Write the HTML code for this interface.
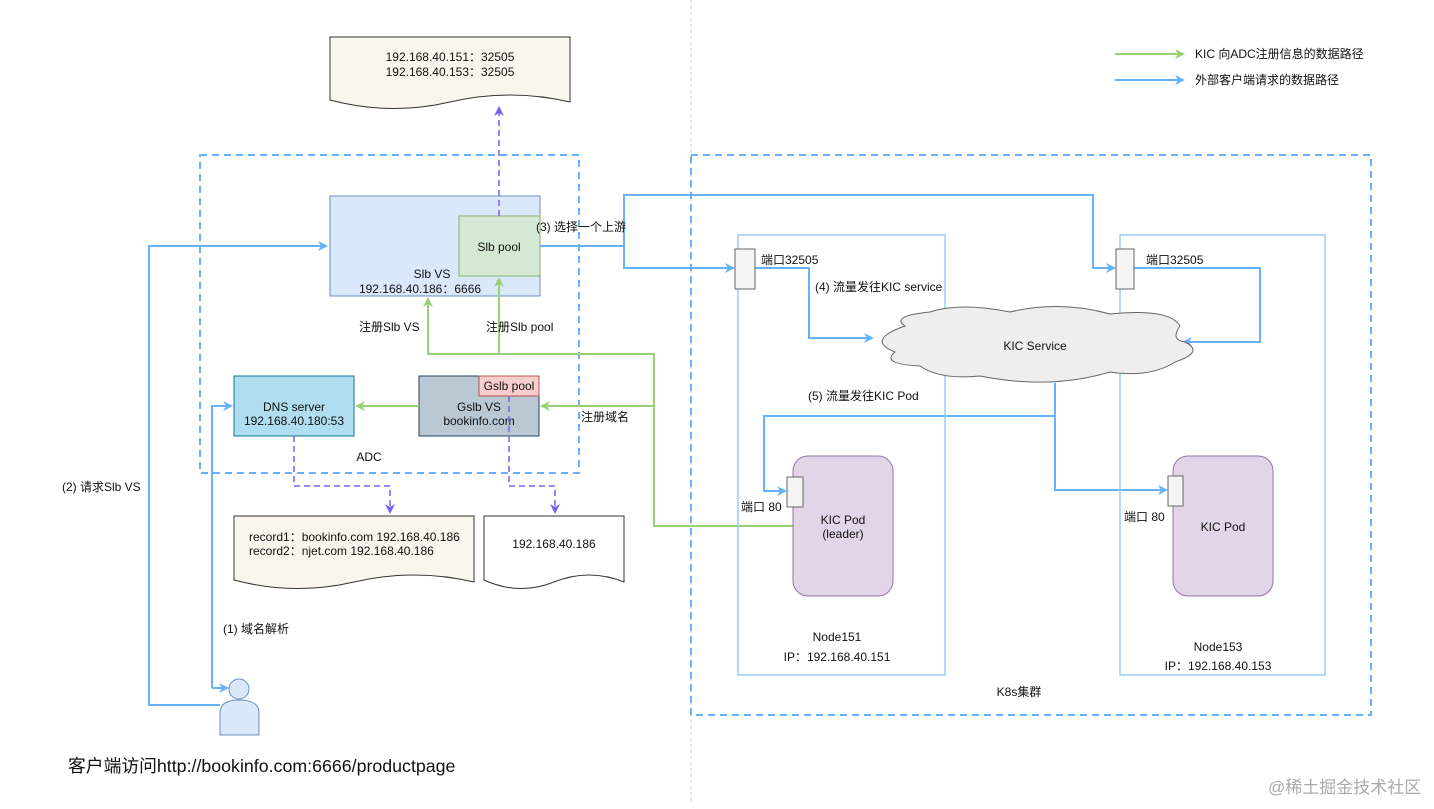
<!DOCTYPE html>
<html><head><meta charset="utf-8"><style>
body{margin:0;background:#fff}
svg text{font-family:"Liberation Sans","Noto Sans CJK SC",sans-serif;font-size:12px;fill:#111}
</style></head><body>
<svg width="1434" height="804" viewBox="0 0 1434 804" xmlns="http://www.w3.org/2000/svg">
<defs>
<marker id="b" markerWidth="10" markerHeight="10" refX="8" refY="5" orient="auto" markerUnits="userSpaceOnUse"><path d="M0,0 L10,5 L0,10 L3,5z" fill="#66b2ff"/></marker>
<marker id="g" markerWidth="10" markerHeight="10" refX="8" refY="5" orient="auto" markerUnits="userSpaceOnUse"><path d="M0,0 L10,5 L0,10 L3,5z" fill="#97d077"/></marker>
<marker id="p" markerWidth="10" markerHeight="10" refX="8" refY="5" orient="auto" markerUnits="userSpaceOnUse"><path d="M0,0 L10,5 L0,10 L3,5z" fill="#7b5ff0"/></marker>
</defs>
<line x1="691" y1="0" x2="691" y2="804" stroke="#ccc" stroke-dasharray="3,3"/>
<rect x="200" y="155" width="379" height="318" fill="none" stroke="#66b2ff" stroke-width="2" stroke-dasharray="7,5"/>
<rect x="691" y="155" width="680" height="560" fill="none" stroke="#66b2ff" stroke-width="2" stroke-dasharray="7,5"/>
<path d="M330,37 H570 V102 Q510,88 450,102 T330,100 Z" fill="#f9f7ed" stroke="#333"/>
<text x="450" y="61" text-anchor="middle">192.168.40.151：32505</text>
<text x="450" y="76" text-anchor="middle">192.168.40.153：32505</text>
<path d="M234,516 H474 V582 Q414,568 354,582 T234,580 Z" fill="#f9f7ed" stroke="#333"/>
<text x="249" y="541">record1：bookinfo.com 192.168.40.186</text>
<text x="249" y="555">record2：njet.com 192.168.40.186</text>
<path d="M484,516 H624 V582 Q589,568 554,582 T484,580 Z" fill="#fff" stroke="#333"/>
<text x="554" y="548" text-anchor="middle">192.168.40.186</text>
<rect x="330" y="196" width="210" height="100" fill="#dae8fc" stroke="#6c8ebf"/>
<text x="432" y="278" text-anchor="middle">Slb VS</text>
<text x="420" y="293" text-anchor="middle">192.168.40.186：6666</text>
<rect x="459" y="216" width="81" height="60" fill="#d5e8d4" stroke="#82b366"/>
<text x="499" y="251" text-anchor="middle">Slb pool</text>
<path d="M499,216 V108" stroke="#7b5ff0" stroke-width="1.5" stroke-dasharray="6,4" fill="none" marker-end="url(#p)"/>
<rect x="234" y="376" width="120" height="60" fill="#b1ddf0" stroke="#10739e"/>
<text x="294" y="411" text-anchor="middle">DNS server</text>
<text x="294" y="425" text-anchor="middle">192.168.40.180:53</text>
<rect x="419" y="376" width="120" height="60" fill="#bac8d3" stroke="#23445d"/>
<rect x="479" y="376" width="60" height="20" fill="#f8cecc" stroke="#b85450"/>
<text x="509" y="390" text-anchor="middle">Gslb pool</text>
<text x="479" y="411" text-anchor="middle">Gslb VS</text>
<text x="479" y="425" text-anchor="middle">bookinfo.com</text>
<text x="369" y="461" text-anchor="middle">ADC</text>
<g stroke="#97d077" stroke-width="2" fill="none">
<path d="M419,406 H357" marker-end="url(#g)"/>
<path d="M793,526 H654 V354 H428 V299" marker-end="url(#g)"/>
<path d="M499,354 V279" marker-end="url(#g)"/>
<path d="M654,406 H542" marker-end="url(#g)"/>
</g>
<text x="359" y="331">注册Slb VS</text>
<text x="486" y="331">注册Slb pool</text>
<text x="581" y="421">注册域名</text>
<g stroke="#7b5ff0" stroke-width="1.5" stroke-dasharray="6,4" fill="none">
<path d="M294,436 V486 H390 V512" marker-end="url(#p)"/>
<path d="M509,396 V486 H555 V512" marker-end="url(#p)"/>
</g>
<circle cx="239" cy="689" r="10" fill="#dae8fc" stroke="#6c8ebf"/>
<path d="M220,735 V713 Q220,700 239,700 Q259,700 259,713 V735 Z" fill="#dae8fc" stroke="#6c8ebf"/>
<g stroke="#66b2ff" stroke-width="2" fill="none">
<path d="M220,705 H149 V246 H326" marker-end="url(#b)"/>
<path d="M212,688 V406 H231" marker-end="url(#b)"/>
<path d="M212,688 H227" marker-end="url(#b)"/>
<path d="M540,246 H624 V195 H1093 V268 H1114" marker-end="url(#b)"/>
<path d="M624,246 V268 H733" marker-end="url(#b)"/>
<path d="M755,268 H809 V338 H872" marker-end="url(#b)"/>
<path d="M1134,268 H1260 V342 H1184" marker-end="url(#b)"/>
<path d="M1055,383 V416 H764 V491 H785" marker-end="url(#b)"/>
<path d="M1055,416 V490 H1166" marker-end="url(#b)"/>
</g>
<text x="62" y="491">(2) 请求Slb VS</text>
<text x="223" y="633">(1) 域名解析</text>
<text x="536" y="231">(3) 选择一个上游</text>
<rect x="738" y="235" width="207" height="440" fill="none" stroke="#99ccff" stroke-width="1.5"/>
<rect x="1120" y="235" width="205" height="440" fill="none" stroke="#99ccff" stroke-width="1.5"/>
<rect x="735" y="249" width="20" height="40" fill="#f5f5f5" stroke="#666"/>
<rect x="1116" y="249" width="18" height="40" fill="#f5f5f5" stroke="#666"/>
<text x="761" y="264">端口32505</text>
<text x="1146" y="264">端口32505</text>
<text x="815" y="291">(4) 流量发往KIC service</text>
<path d="M905,326 Q890,316 930,312 Q960,302 1010,312 Q1060,300 1110,314 Q1170,308 1180,326 Q1170,340 1185,342 Q1205,352 1175,362 Q1150,378 1110,372 Q1050,390 980,376 Q940,380 920,366 Q880,364 895,352 Q865,340 905,326 Z" fill="#eeeeee" stroke="#666"/>
<text x="1035" y="350" text-anchor="middle">KIC Service</text>
<text x="808" y="400">(5) 流量发往KIC Pod</text>
<rect x="793" y="456" width="100" height="140" rx="15" fill="#e1d5e7" stroke="#9673a6"/>
<rect x="787" y="477" width="16" height="30" fill="#f5f5f5" stroke="#666"/>
<text x="843" y="524" text-anchor="middle">KIC Pod</text>
<text x="843" y="538" text-anchor="middle">(leader)</text>
<text x="741" y="511">端口 80</text>
<rect x="1173" y="456" width="100" height="140" rx="15" fill="#e1d5e7" stroke="#9673a6"/>
<rect x="1168" y="476" width="15" height="30" fill="#f5f5f5" stroke="#666"/>
<text x="1223" y="531" text-anchor="middle">KIC Pod</text>
<text x="1124" y="521">端口 80</text>
<text x="837" y="641" text-anchor="middle">Node151</text>
<text x="837" y="661" text-anchor="middle">IP：192.168.40.151</text>
<text x="1218" y="651" text-anchor="middle">Node153</text>
<text x="1218" y="670" text-anchor="middle">IP：192.168.40.153</text>
<text x="1019" y="696" text-anchor="middle">K8s集群</text>
<line x1="1115" y1="54" x2="1183" y2="54" stroke="#97d077" stroke-width="2" marker-end="url(#g)"/>
<text x="1195" y="58">KIC 向ADC注册信息的数据路径</text>
<line x1="1115" y1="80" x2="1183" y2="80" stroke="#66b2ff" stroke-width="2" marker-end="url(#b)"/>
<text x="1195" y="84">外部客户端请求的数据路径</text>
<text x="68" y="772" style="font-size:17.8px">客户端访问http://bookinfo.com:6666/productpage</text>
<text x="1268" y="793" style="font-size:17px;fill:#aaa">@稀土掘金技术社区</text>
</svg>
</body></html>
